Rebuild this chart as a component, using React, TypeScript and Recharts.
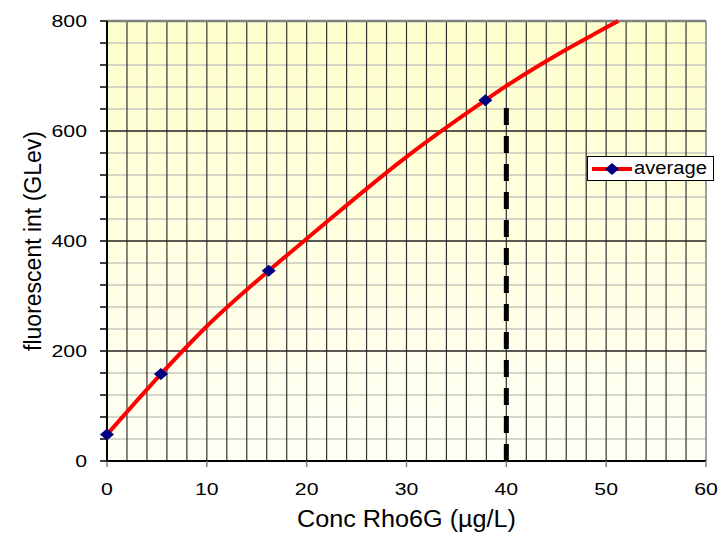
import React from 'react';
import { LineChart, Line, XAxis, YAxis, ReferenceLine, ReferenceArea, Legend, Label } from 'recharts';

const averagePoints = [
  { conc: 0, avg: 48 },
  { conc: 5.4, avg: 158 },
  { conc: 16.2, avg: 346 },
  { conc: 37.9, avg: 656 },
];

const trendPoints = [
  { conc: 0, fit: 48 },
  { conc: 5.4, fit: 158 },
  { conc: 10, fit: 245 },
  { conc: 16.2, fit: 346 },
  { conc: 20, fit: 404 },
  { conc: 30, fit: 553 },
  { conc: 37.9, fit: 656 },
  { conc: 40, fit: 682 },
  { conc: 45.4, fit: 742 },
  { conc: 50, fit: 788 },
  { conc: 51.2, fit: 800 },
];

const markerLine = [
  { conc: 40, mark: 0 },
  { conc: 40, mark: 655 },
];

const xTicks = [0, 10, 20, 30, 40, 50, 60];
const yTicks = [0, 40, 80, 120, 160, 200, 240, 280, 320, 360, 400, 440, 480, 520, 560, 600, 640, 680, 720, 760, 800];
const yLabelTicks = [0, 200, 400, 600, 800];
const xGrid = [2, 4, 6, 8, 10, 12, 14, 16, 18, 20, 22, 24, 26, 28, 30, 32, 34, 36, 38, 40, 42, 44, 46, 48, 50, 52, 54, 56, 58, 60];
const yMinorGrid = [40, 80, 120, 160, 240, 280, 320, 360, 440, 480, 520, 560, 640, 680, 720, 760];
const yMajorGrid = [200, 400, 600];

const FONT = '"Liberation Sans", Arial, sans-serif';

const Diamond = (props: any) => {
  const { cx, cy } = props;
  if (cx == null || cy == null) return null;
  return <polygon points={`${cx - 7},${cy} ${cx},${cy - 6} ${cx + 7},${cy} ${cx},${cy + 6}`} fill="#000080" />;
};

const YTick = (props: any) => {
  const { x, y, payload } = props;
  if (!yLabelTicks.includes(payload.value)) return null;
  return (
    <text transform={`translate(${x},${y}) scale(1.25,1)`} textAnchor="end" dy="0.35em" fontSize={17} fontFamily={FONT} fill="#000">
      {payload.value}
    </text>
  );
};

const XTick = (props: any) => {
  const { x, y, payload } = props;
  return (
    <text transform={`translate(${x},${y}) scale(1.25,1)`} textAnchor="middle" dy="0.71em" fontSize={17} fontFamily={FONT} fill="#000">
      {payload.value}
    </text>
  );
};

const BgShape = (props: any) => {
  const { x, y, width, height } = props;
  return (
    <g>
      <defs>
        <linearGradient id="plotBg" x1="0" y1="0" x2="0" y2="1">
          <stop offset="0%" stopColor="#FFFFCC" />
          <stop offset="100%" stopColor="#FFFFF6" />
        </linearGradient>
      </defs>
      <rect x={x} y={y} width={width} height={height} fill="url(#plotBg)" />
    </g>
  );
};

const LegendBox = () => (
  <div
    style={{
      width: 125,
      height: 23,
      border: '1px solid #000',
      background: '#fff',
      display: 'flex',
      alignItems: 'center',
      boxSizing: 'content-box',
      fontFamily: FONT,
    }}
  >
    <svg width={46} height={23} style={{ display: 'block' }}>
      <line x1={4} y1={12} x2={44} y2={12} stroke="#FF0000" strokeWidth={4} />
      <polygon points="17,12 24,6 31,12 24,18" fill="#000080" />
    </svg>
    <span style={{ fontSize: 18, display: 'inline-block', transform: 'scale(1.12,1)', transformOrigin: 'left center', color: '#000' }}>
      average
    </span>
  </div>
);

export default function App() {
  return (
    <div style={{ position: 'absolute', left: 0, top: 0 }}>
      <LineChart width={719} height={535} margin={{ top: 21, right: 13, bottom: 34, left: 37 }}>
        <XAxis
          type="number"
          dataKey="conc"
          domain={[0, 60]}
          ticks={xTicks}
          interval={0}
          tick={<XTick />}
          tickSize={6}
          tickMargin={16}
          height={40}
          axisLine={{ stroke: '#000', strokeWidth: 2 }}
          tickLine={{ stroke: '#808080', strokeWidth: 1.5 }}
        >
          <Label
            content={(p: any) => {
              const vb = p.viewBox || { x: 107, width: 599 };
              return (
                <text x={vb.x + vb.width / 2} y={527} textAnchor="middle" fontSize={23} fontFamily={FONT} fill="#000" textLength={219} lengthAdjust="spacingAndGlyphs">
                  Conc Rho6G (µg/L)
                </text>
              );
            }}
          />
        </XAxis>
        <YAxis
          type="number"
          domain={[0, 800]}
          ticks={yTicks}
          interval={0}
          tick={<YTick />}
          tickSize={7}
          tickMargin={13}
          width={70}
          axisLine={{ stroke: '#000', strokeWidth: 2 }}
          tickLine={{ stroke: '#000', strokeWidth: 1.5 }}
        >
          <Label
            content={(p: any) => {
              const vb = p.viewBox || { y: 21, height: 440 };
              const cy = vb.y + vb.height / 2;
              return (
                <text transform={`translate(41,${cy}) rotate(-90)`} textAnchor="middle" fontSize={23} fontFamily={FONT} fill="#000">
                  fluorescent int (GLev)
                </text>
              );
            }}
          />
        </YAxis>
        <ReferenceArea x1={0} x2={60} y1={0} y2={800} shape={<BgShape />} fillOpacity={1} />
        {yMinorGrid.map((v) => (
          <ReferenceLine key={`ym${v}`} y={v} stroke="#C8C8C0" strokeWidth={1.5} />
        ))}
        {xGrid.map((v) => (
          <ReferenceLine key={`x${v}`} x={v} stroke={v === 60 ? '#808080' : '#333'} strokeWidth={v === 60 ? 1.5 : 1.2} />
        ))}
        {yMajorGrid.map((v) => (
          <ReferenceLine key={`yM${v}`} y={v} stroke="#222" strokeWidth={1.3} />
        ))}
        <ReferenceLine y={800} stroke="#808080" strokeWidth={2.5} />
        <Line
          data={markerLine}
          dataKey="mark"
          type="linear"
          stroke="#000"
          strokeWidth={5}
          strokeDasharray="17 11"
          dot={false}
          activeDot={false}
          isAnimationActive={false}
          legendType="none"
        />
        <Line
          data={trendPoints}
          dataKey="fit"
          type="monotone"
          stroke="#FF0000"
          strokeWidth={4}
          dot={false}
          activeDot={false}
          isAnimationActive={false}
          legendType="none"
        />
        <Line
          data={averagePoints}
          dataKey="avg"
          name="average"
          type="linear"
          stroke="none"
          dot={<Diamond />}
          activeDot={false}
          isAnimationActive={false}
        />
        <Legend
          layout="vertical"
          verticalAlign="middle"
          align="center"
          content={() => <LegendBox />}
          wrapperStyle={{ position: 'absolute', left: 587, top: 156, width: 'auto', height: 'auto' }}
        />
      </LineChart>
    </div>
  );
}
